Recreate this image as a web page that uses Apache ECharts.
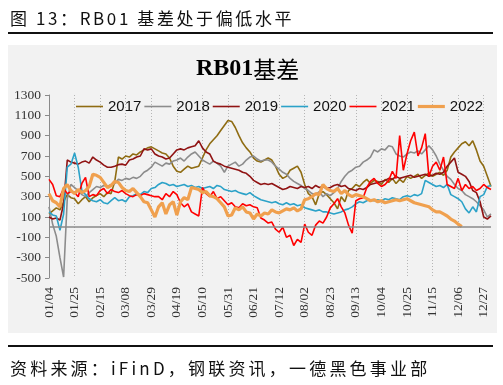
<!DOCTYPE html>
<html>
<head>
<meta charset="utf-8">
<script src="https://cdn.jsdelivr.net/npm/echarts@6/dist/echarts.min.js"></script>
<style>
  html, body { margin: 0; padding: 0; background: #ffffff; }
  #wrap { position: relative; width: 503px; height: 385px; overflow: hidden; }
  #chart { position: absolute; left: 0; top: 0; width: 503px; height: 385px; }
  .cap { position: absolute; left: 10px; font-family: 'Noto Sans CJK SC', sans-serif; font-size: 17px; line-height: 17px; color: #111; white-space: nowrap; }
</style>
</head>
<body>
<div id="wrap">
  <div id="chart"></div>
  <div class="cap" style="top:9px; letter-spacing:2.6px;">图 13：RB01 基差处于偏低水平</div>
  <div class="cap" style="top:359px; letter-spacing:3.2px;">资料来源：iFinD，钢联资讯，一德黑色事业部</div>
</div>
<script>
// Category axis: dates every 3 days starting 01/04
var startMonth = 1, startDay = 4, stepDays = 3, nCats = 122;
var categories = [];
(function () {
  var d = new Date(Date.UTC(2021, startMonth - 1, startDay));
  for (var i = 0; i < nCats; i++) {
    var m = d.getUTCMonth() + 1, dd = d.getUTCDate();
    categories.push((m < 10 ? '0' : '') + m + '/' + (dd < 10 ? '0' : '') + dd);
    d = new Date(d.getTime() + stepDays * 86400000);
  }
})();

var seriesNames = ['2017', '2018', '2019', '2020', '2021', '2022'];

var s2017 = [130,160,190,170,250,320,290,280,230,270,
  300,250,290,310,330,300,340,330,450,690,
  670,700,690,720,710,740,760,780,790,770,
  750,730,720,680,600,550,540,570,600,580,
  590,600,680,760,820,860,900,950,1000,1050,
  1040,980,900,830,780,740,680,650,640,660,
  680,660,600,520,480,500,560,580,600,540,
  420,330,300,220,330,350,320,280,240,180,
  300,250,360,380,420,400,440,470,430,460,
  450,420,470,440,480,430,470,440,500,480,
  500,520,480,510,530,500,520,540,510,560,
  690,740,780,820,840,800,850,760,650,600,500,400];

var s2018 = [200,30,-90,-300,-490,280,420,390,360,320,
  300,340,370,400,390,410,400,420,430,470,
  460,480,470,490,480,500,540,560,590,640,
  620,600,630,620,650,660,680,650,690,720,
  740,700,660,640,620,650,630,600,540,600,
  620,640,600,620,660,690,700,670,650,660,
  660,640,600,570,540,520,480,450,430,410,
  380,360,330,320,350,300,330,310,340,380,
  450,500,540,560,590,600,640,660,690,760,
  740,770,760,800,790,720,700,690,720,740,
  730,750,720,760,800,760,700,620,560,500,
  470,420,380,360,320,300,280,250,210,170,100,130];

var s2019 = [100,80,90,70,230,660,640,630,620,640,
  650,630,690,660,640,610,590,590,600,615,
  620,610,660,670,690,700,770,760,770,720,
  700,690,670,680,720,760,770,760,780,790,
  800,850,780,740,720,650,630,620,600,590,
  580,570,560,540,530,500,460,440,420,430,
  420,430,410,390,370,380,400,390,380,400,
  390,400,380,410,390,400,380,390,410,420,
  400,410,380,370,360,380,370,390,420,430,
  440,450,460,480,470,500,480,490,500,510,
  490,500,510,520,500,510,530,520,540,600,
  640,680,540,520,500,450,360,340,250,100,80,110];

var s2020 = [150,120,110,-30,130,590,620,730,590,360,
  320,280,260,250,270,240,230,260,290,260,
  270,250,300,310,330,320,350,340,380,390,
  420,440,430,410,420,400,410,420,400,410,
  390,400,380,390,400,380,410,400,370,360,
  350,360,340,330,320,340,310,290,270,260,
  250,240,250,230,220,240,220,230,210,220,
  190,180,170,160,170,150,150,140,130,140,
  150,170,180,200,230,250,240,260,270,260,
  270,260,280,270,290,280,270,300,310,300,
  320,310,330,460,440,420,400,410,390,420,
  320,300,280,250,180,140,200,150,300,320,400,410];

var s2021 = [470,420,310,300,380,330,350,340,300,430,
  490,300,320,310,360,380,330,370,350,340,
  360,330,310,300,320,310,330,320,310,300,
  300,270,330,300,350,320,240,200,230,150,
  130,110,390,330,300,350,280,300,260,220,
  240,200,190,230,210,220,200,190,90,70,
  40,50,-20,-50,0,-100,-80,-180,-120,-150,
  30,-50,-80,20,60,40,100,190,230,280,
  200,140,20,-60,260,280,290,390,450,480,
  430,400,420,460,550,480,900,560,720,850,
  935,700,780,920,500,600,640,560,690,420,
  400,380,480,360,420,380,400,360,380,420,390,370];

var s2022 = [330,260,240,200,380,420,360,330,370,340,
  360,400,520,510,490,440,390,410,450,440,
  390,360,350,380,340,300,250,240,170,100,
  200,240,130,220,250,120,250,290,270,390,
  380,370,340,350,310,300,280,240,200,110,
  120,190,170,200,150,140,80,130,110,140,
  130,170,150,140,160,180,170,190,160,180,
  270,280,300,330,320,420,380,360,350,380,
  330,360,320,300,320,310,300,280,260,270,
  250,260,240,250,260,270,260,270,280,260,
  240,230,220,210,200,170,150,150,130,110,
  80,60,30,5];

var yTickMin = -500, yTickMax = 1300, yTickStep = 200;
var labelEvery = 7;

var colors = ['#8f6c12', '#8c8c8c', '#901313', '#2ba2c8', '#ff0000', '#f0a04e'];
var widths = [1.6, 1.6, 1.6, 1.6, 1.6, 3.2];
var dataList = [s2017, s2018, s2019, s2020, s2021, s2022];

var chart = echarts.init(document.getElementById('chart'), null, { renderer: 'canvas' });

var series = seriesNames.map(function (name, i) {
  var s = {
    name: name,
    type: 'line',
    data: dataList[i],
    symbol: 'none',
    smooth: false,
    lineStyle: { color: colors[i], width: widths[i] },
    itemStyle: { color: colors[i] },
    animation: false
  };
  if (i === 0) {
    s.markLine = {
      silent: true,
      symbol: 'none',
      label: { show: false },
      lineStyle: { color: '#8a8a8a', width: 1.5, type: 'solid' },
      data: [{ yAxis: 0 }],
      animation: false
    };
  }
  return s;
});

var legendData = seriesNames.map(function (name, i) {
  return { name: name, icon: 'path://M0,0H27V' + widths[i] + 'H0Z', itemStyle: { color: colors[i] } };
});

chart.setOption({
  animation: false,
  backgroundColor: '#ffffff',
  graphic: [
    { type: 'rect', z: -10, shape: { x: 8, y: 45, width: 489, height: 288 }, style: { fill: '#f2f2f2' } },
    { type: 'rect', z: 10, shape: { x: 8, y: 32, width: 485, height: 2 }, style: { fill: '#111' } },
    { type: 'rect', z: 10, shape: { x: 8, y: 345, width: 485, height: 2 }, style: { fill: '#111' } }
  ],
  title: {
    text: '{a|RB01}{b|基差}',
    left: 191,
    top: 52,
    textStyle: {
      rich: {
        a: { fontFamily: "'Liberation Serif', serif", fontWeight: 'bold', fontSize: 24, color: '#000' },
        b: { fontFamily: "'Noto Sans CJK SC', sans-serif", fontWeight: 'normal', fontSize: 23, color: '#000' }
      }
    }
  },
  legend: {
    left: 71,
    top: 94,
    width: 430,
    itemWidth: 27,
    itemHeight: 14,
    itemGap: 3,
    symbolKeepAspect: true,
    textStyle: { fontFamily: "'Liberation Sans', sans-serif", fontSize: 15, color: '#111' },
    data: legendData
  },
  grid: { left: 49, right: 12, top: 95, bottom: 107, containLabel: false },
  xAxis: {
    type: 'category',
    data: categories,
    boundaryGap: false,
    axisLine: { show: false, onZero: false },
    axisTick: { show: false },
    axisLabel: {
      interval: function (i) { return i % labelEvery === 0; },
      rotate: 90,
      margin: 9,
      fontFamily: "'Liberation Serif', serif",
      fontSize: 13.5,
      color: '#333'
    },
    splitLine: {
      show: true,
      interval: function (i) { return i % labelEvery === 0; },
      lineStyle: { color: '#b5b5b5', type: [1, 2], width: 1 }
    }
  },
  yAxis: {
    type: 'value',
    min: yTickMin,
    max: yTickMax,
    interval: yTickStep,
    axisLine: { show: true, lineStyle: { color: '#8a8a8a', width: 1 } },
    axisTick: { show: true, length: 4, lineStyle: { color: '#8a8a8a' } },
    axisLabel: {
      margin: 8,
      formatter: function (v) { return String(v); },
      fontFamily: "'Liberation Serif', serif",
      fontSize: 13.5,
      color: '#333'
    },
    splitLine: { show: false }
  },
  series: series
});
</script>
</body>
</html>
